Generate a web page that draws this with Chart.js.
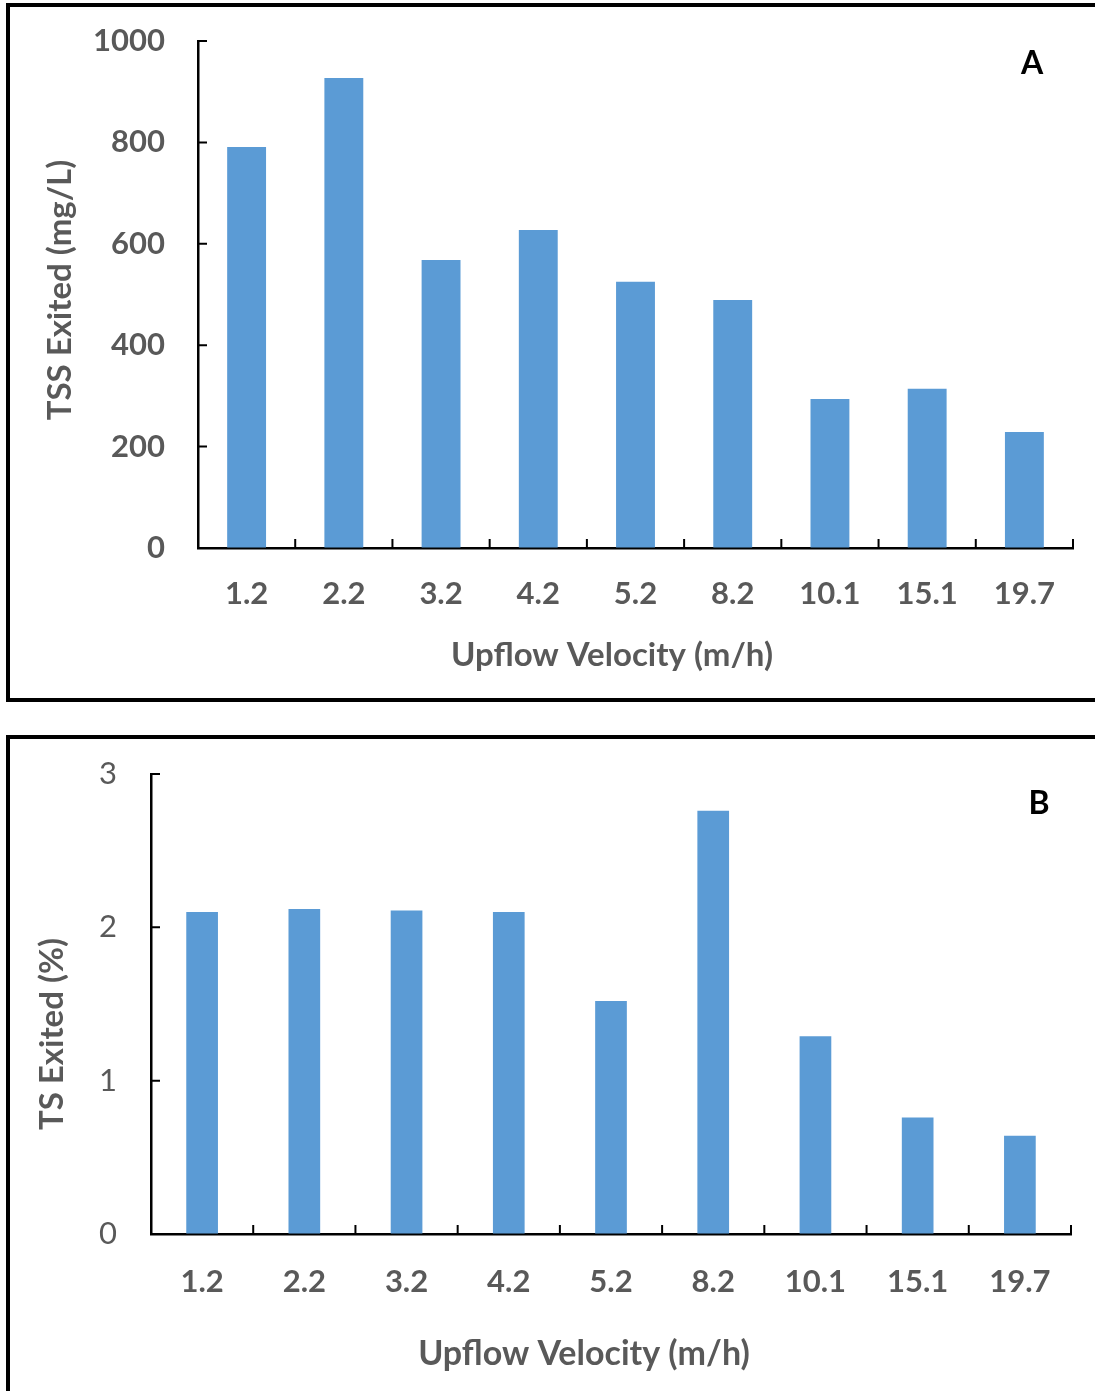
<!DOCTYPE html>
<html>
<head>
<meta charset="utf-8">
<script src="https://cdn.jsdelivr.net/npm/chart.js@4.4.1/dist/chart.umd.min.js"></script>
<style>
    body { margin: 0; background: #fff; width: 1095px; height: 1391px; overflow: hidden; position: relative; }
    .frame { position: absolute; border: 4px solid #000; box-sizing: border-box; }
    #frameA { left: 6px; top: 3px; width: 1200px; height: 699px; }
    #frameB { left: 6px; top: 735px; width: 1200px; height: 800px; }
    .wrap { position: absolute; left: 0; width: 1095px; }
    #wrapA { top: 0; height: 700px; }
    #wrapB { top: 700px; height: 691px; }
</style>
</head>
<body>
<div class="frame" id="frameA"></div>
<div class="frame" id="frameB"></div>
<div class="wrap" id="wrapA"><canvas id="chart-tss"></canvas></div>
<div class="wrap" id="wrapB"><canvas id="chart-ts"></canvas></div>
<script>
// Adatok
var velocities = ["1.2", "2.2", "3.2", "4.2", "5.2", "8.2", "10.1", "15.1", "19.7"];
var tssExited = [791, 927, 568, 627, 525, 489, 294, 314, 229];
var tsExited = [2.10, 2.12, 2.11, 2.10, 1.52, 2.76, 1.29, 0.76, 0.64];
var tssTicks = [0, 200, 400, 600, 800, 1000];
var tsTicks = [0, 1, 2, 3];

var gray = "#595959";
var blue = "#5B9BD5";
var fontName = "Lato";

// Excel-style tick marks pointing into the plot
var inwardTicks = {
    id: "inwardTicks",
    afterDatasetsDraw: function(chart) {
        var ctx = chart.ctx, x = chart.scales.x, y = chart.scales.y;
        ctx.save();
        ctx.strokeStyle = "#000";
        ctx.lineWidth = 2;
        ctx.beginPath();
        for (var i = 0; i <= chart.data.labels.length; i++) {
            var px = x.getPixelForValue(i - 0.5);
            ctx.moveTo(px, x.top);
            ctx.lineTo(px, x.top - 9);
        }
        y.ticks.forEach(function(t) {
            var py = y.getPixelForValue(t.value);
            ctx.moveTo(y.right, py);
            ctx.lineTo(y.right + 9, py);
        });
        ctx.stroke();
        ctx.restore();
    }
};

// Axis titles and panel letter
var panelText = {
    id: "panelText",
    afterDraw: function(chart, args, opts) {
        var ctx = chart.ctx;
        opts.items.forEach(function(it) {
            ctx.save();
            ctx.translate(it.x, it.y);
            ctx.rotate(it.rot || 0);
            ctx.font = it.font;
            ctx.fillStyle = it.color;
            ctx.textAlign = "center";
            ctx.textBaseline = "middle";
            ctx.fillText(it.text, 0, 0);
            ctx.restore();
        });
    }
};

function makeChart(id, values, ticks, max, cfg) {
    return new Chart(id, {
        type: "bar",
        data: {
            labels: velocities,
            datasets: [{
                data: values,
                backgroundColor: blue,
                categoryPercentage: 1,
                barPercentage: cfg.barPct
            }]
        },
        options: {
            responsive: true,
            maintainAspectRatio: false,
            animation: false,
            layout: { padding: cfg.padding },
            plugins: {
                legend: { display: false },
                tooltip: { enabled: false },
                panelText: { items: cfg.texts }
            },
            scales: {
                x: {
                    grid: { display: true, drawOnChartArea: false, drawTicks: false },
                    border: { color: "#000", width: 2.5 },
                    ticks: { color: gray, padding: cfg.xPad, font: { family: fontName, size: 31, weight: "bold" } },
                    afterFit: function(s) { s.height = cfg.xHeight; }
                },
                y: {
                    min: 0,
                    max: max,
                    grid: { display: true, drawOnChartArea: false, drawTicks: false },
                    border: { color: "#000", width: 2.5 },
                    ticks: {
                        color: gray,
                        padding: cfg.yPad,
                        font: { family: fontName, size: 31, weight: cfg.yWeight },
                        callback: function(v) { return String(v); }
                    },
                    afterBuildTicks: function(s) { s.ticks = ticks.map(function(v) { return { value: v }; }); },
                    afterFit: function(s) {
                        s.width = cfg.yWidth;
                        s.paddingTop = 0;
                        s.paddingBottom = 0;
                    }
                }
            }
        },
        plugins: [inwardTicks, panelText]
    });
}

document.addEventListener("DOMContentLoaded", function() {
    var bold = "bold 33px " + fontName;
    makeChart("chart-tss", tssExited, tssTicks, 1000, {
        barPct: 0.4,
        padding: { left: 43, top: 41, right: 22, bottom: 28 },
        xPad: 27, xHeight: 124, yPad: 33, yWidth: 155, yWeight: "bold",
        texts: [
            { text: "Upflow Velocity (m/h)", x: 612, y: 655, font: bold, color: gray },
            { text: "TSS Exited (mg/L)", x: 60, y: 290, rot: -Math.PI / 2, font: bold, color: gray },
            { text: "A", x: 1032, y: 64, font: "bold 32px " + fontName, color: "#000" }
        ]
    });
    makeChart("chart-ts", tsExited, tsTicks, 3, {
        barPct: 0.31,
        padding: { left: 35, top: 74, right: 24, bottom: 20 },
        xPad: 29, xHeight: 137, yPad: 34, yWidth: 116, yWeight: "normal",
        texts: [
            { text: "Upflow Velocity (m/h)", x: 584, y: 654, font: "bold 34px " + fontName, color: gray },
            { text: "TS Exited (%)", x: 52, y: 334, rot: -Math.PI / 2, font: bold, color: gray },
            { text: "B", x: 1039, y: 104, font: "bold 32px " + fontName, color: "#000" }
        ]
    });
});
</script>
</body>
</html>
